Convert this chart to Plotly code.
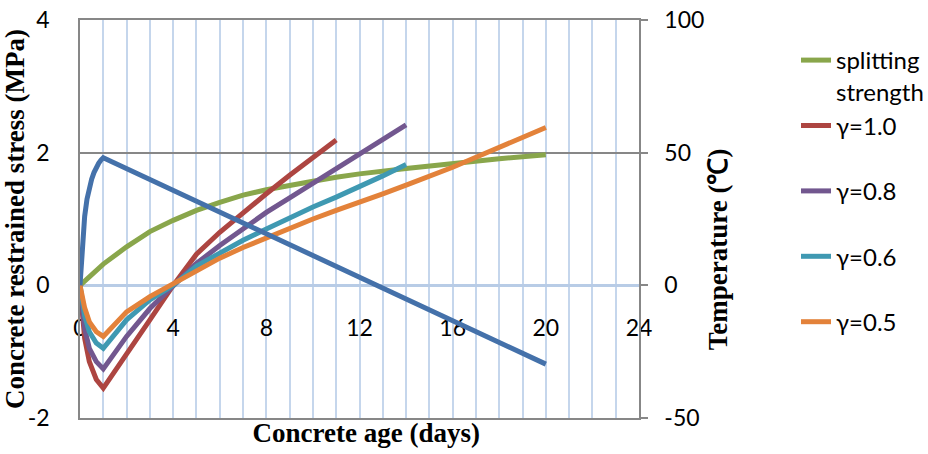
import plotly.graph_objects as go

# ---- data ----
green_days = [0, 0.5, 1, 2, 3, 4, 5, 6, 7, 8, 9, 10, 11, 12, 14, 16, 18, 20]
splitting = [0, 0.16, 0.32, 0.58, 0.81, 0.98, 1.13, 1.25, 1.36, 1.44, 1.51, 1.57, 1.63, 1.68, 1.76, 1.84, 1.91, 1.97]

days = [0, 0.1, 0.2, 0.4, 0.7, 1, 2, 3, 4, 5, 6, 7, 8, 9, 10, 11, 12, 13, 14, 15, 16, 17, 18, 19, 20]
g10 = [0, -0.42, -0.80, -1.15, -1.42, -1.55, -1.02, -0.52, 0.0, 0.47, 0.80, 1.10, 1.38, 1.66, 1.93, 2.19]
g08 = [0, -0.32, -0.65, -0.95, -1.15, -1.26, -0.77, -0.35, 0.0, 0.33, 0.60, 0.85, 1.10, 1.32, 1.54, 1.76, 1.97, 2.20, 2.42]
g06 = [0, -0.22, -0.46, -0.70, -0.87, -0.95, -0.52, -0.22, 0.0, 0.29, 0.49, 0.68, 0.85, 1.02, 1.18, 1.33, 1.48, 1.65, 1.82]
g05 = [0, -0.17, -0.34, -0.55, -0.70, -0.77, -0.40, -0.17, 0.02, 0.22, 0.41, 0.57, 0.72, 0.86, 1.00, 1.13, 1.25, 1.38, 1.51, 1.64, 1.78, 1.93, 2.08, 2.23, 2.38]

t_days = [0, 0.05, 0.1, 0.2, 0.3, 0.4, 0.5, 0.6, 0.7, 0.8, 0.9, 1, 20]
temperature = [0, 7, 13.5, 26, 32.5, 37.5, 40, 42.5, 44.5, 46, 47.2, 48.1, -29.7]

x_ticks = [0, 4, 8, 12, 16, 20, 24]
y_ticks = [-2, 0, 2, 4]
y_labels = ["-2", "0", "2", "4"]
y2_ticks = [-50, 0, 50, 100]
y2_labels = ["-50", "0", "50", "100"]

names = ["splitting<br>strength", "γ=1.0<br> ", "γ=0.8<br> ", "γ=0.6<br> ", "γ=0.5<br> "]
colors = ["#89A64B", "#AD4541", "#72578F", "#3F99B2", "#E3823A"]
temp_color = "#4471AA"

LBLUE = "#C5D6EC"
GRAY = "#878787"
TICKFONT = dict(family="Lato", size=23, color="#000000")
TITLEFONT = dict(family="Liberation Serif", size=27, color="#000000", weight="bold")
LW = 5

# the figure is a little wider than the window so the legend fits without shrinking the plot
W, H = 960, 454
ML, MT, PW, PH = 80, 20, 559, 398

fig = go.Figure()
series = [(green_days, splitting), (days, g10), (days, g08), (days, g06), (days, g05)]
for (xs, ys), nm, c in zip(series, names, colors):
    fig.add_trace(go.Scatter(x=xs[:len(ys)], y=ys, mode="lines", name=nm,
                             line=dict(color=c, width=LW)))

fig.add_trace(go.Scatter(x=t_days, y=temperature, mode="lines", name="Temperature",
                         showlegend=False, xaxis="x2", yaxis="y2",
                         line=dict(color=temp_color, width=LW)))

fig.update_layout(
    width=W, height=H,
    margin=dict(l=ML, r=W - ML - PW, t=MT, b=H - MT - PH),
    paper_bgcolor="white", plot_bgcolor="white",
    showlegend=True,
    legend=dict(x=(796 - ML) / PW, y=(MT + PH - 38) / PH, xanchor="left", yanchor="top",
                valign="top", font=dict(family="Lato", size=24, color="#000000"),
                bgcolor="rgba(0,0,0,0)", tracegroupgap=0),
    xaxis=dict(range=[0, 24], anchor="free", position=1/3, automargin=False,
               tickvals=x_ticks, ticks="", showline=True, linecolor="#B8CCE6", linewidth=3,
               layer="below traces", ticklabeloverflow="allow",
               showgrid=True, gridcolor=LBLUE, gridwidth=2,
               minor=dict(dtick=1, showgrid=True, gridcolor=LBLUE, gridwidth=2),
               zeroline=False, tickfont=TICKFONT, ticklabelstandoff=21),
    yaxis=dict(range=[-2, 4], tickvals=y_ticks, ticktext=y_labels, ticks="", showline=True,
               linecolor=GRAY, automargin=False, ticklabeloverflow="allow",
               linewidth=1.5, showgrid=True, gridcolor=GRAY, gridwidth=1.5, zeroline=False,
               tickfont=TICKFONT, ticklabelstandoff=24,
               title=dict(text="Concrete restrained stress (MPa)", font=TITLEFONT, standoff=0)),
    xaxis2=dict(range=[0, 24], overlaying="x", anchor="y2", side="bottom", automargin=False,
                showticklabels=False, ticks="", showgrid=False, zeroline=False,
                showline=True, linecolor=GRAY, linewidth=1.5, mirror=True,
                title=dict(text="\u200b" + "\u00a0" * 2 + "Concrete age (days)",
                           font=TITLEFONT, standoff=4)),
    yaxis2=dict(range=[-50, 100], tickvals=y2_ticks, ticktext=y2_labels, overlaying="y",
                anchor="x2", side="right", automargin=False, ticklabeloverflow="allow",
                ticks="outside", ticklen=7, tickcolor=GRAY, tickwidth=1.5,
                showline=True, linecolor=GRAY, linewidth=1.5, showgrid=False, zeroline=False,
                tickfont=TICKFONT, ticklabelstandoff=12,
                title=dict(text="Temperature (℃)" + "\u00a0" * 9 + "\u200b",
                           font=TITLEFONT, standoff=5)),
)

fig.write_html("out.html", config={"displayModeBar": False},
               post_script="document.body.style.margin='0px';"
                           "document.body.style.overflow='hidden';")
